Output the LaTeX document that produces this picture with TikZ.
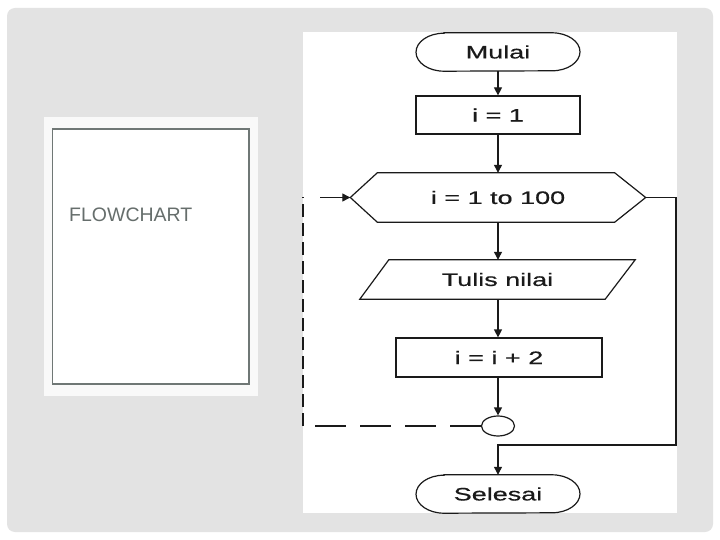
\documentclass[tikz,border=0pt]{standalone}
\usepackage{fontspec}
\setmainfont{Liberation Sans}
\newfontfamily\chartfont[FakeStretch=1.5,FakeBold=0.6]{Liberation Sans}
\usepackage{tikz}
\usetikzlibrary{positioning,arrows.meta,shapes.geometric,calc}
\definecolor{slidebg}{HTML}{E3E3E3}
\definecolor{panelbg}{HTML}{F9F9F9}
\definecolor{frame}{HTML}{6F7775}
\definecolor{titlegray}{HTML}{666E6C}
\definecolor{ink}{HTML}{1A1A1A}
\tikzset{
  txt/.style={inner sep=0pt,text=ink,font=\chartfont\fontsize{18bp}{20bp}\selectfont},
  box/.style={txt,rectangle,draw=ink,line width=1.2bp,minimum width=164bp,minimum height=38bp},
  term/.style={txt,minimum width=164bp,minimum height=38bp},
  ln/.style={line width=1.2bp,draw=ink},
  ar/.style={ln,-{Triangle[length=8bp,width=8bp]}},
  dsh/.style={ln,dash pattern=on 31bp off 14bp},
}
% terminal outline with elliptic ends
\newcommand{\termshape}[1]{%
  \draw[ln] ($(#1.north)+(-54,0)$) -- ($(#1.north)+(54,0)$)
    arc[start angle=90,end angle=-90,x radius=28bp,y radius=19bp]
    -- ($(#1.south)+(-54,0)$)
    arc[start angle=270,end angle=90,x radius=28bp,y radius=19bp] -- cycle;}

\begin{document}
\begin{tikzpicture}[x=1bp,y=-1bp]
  \useasboundingbox (0,0) rectangle (720,540);
  % slide
  \fill[white] (0,0) rectangle (720,540);
  \fill[slidebg,rounded corners=8bp] (7,8) rectangle (713,532);
  \fill[panelbg] (44,117) rectangle (258,396);
  \draw[frame,fill=white,line width=1.6bp] (52.5,129) rectangle (249,384);
  \node[inner sep=0pt,anchor=base west,text=titlegray,
    font=\fontsize{19.5bp}{22bp}\selectfont] (title) at (69,222) {FLOWCHART};
  \fill[white] (303,32) rectangle (677,513);
  % flowchart
  \node[term] (start) at (498,52) {Mulai};
  \termshape{start}
  \node[box] (init) at (498,115) {i = 1};
  \node[txt,minimum width=295bp,minimum height=49bp] (loop) at (498,197.5) {i = 1 to 100};
  \draw[ln] (loop.west) -- ($(loop.north west)+(27,0)$) -- ($(loop.north east)+(-31,0)$)
    -- (loop.east) -- ($(loop.south east)+(-31,0)$) -- ($(loop.south west)+(27,0)$) -- cycle;
  \node[txt,minimum width=275bp,minimum height=39bp] (out) at (497.5,279.5) {Tulis nilai};
  \draw[ln] (out.south west) -- ($(out.north west)+(29,0)$) -- (out.north east)
    -- ($(out.south east)+(-30,0)$) -- cycle;
  \node[box,minimum width=206bp,minimum height=39bp] (incr) at (499,357.5) {i = i + 2};
  \node[ellipse,draw=ink,line width=1.2bp,minimum width=33bp,minimum height=20bp,
    inner sep=0pt] (join) at (498,426) {};
  \node[term] (stop) at (498,494) {Selesai};
  \termshape{stop}
  \coordinate (dl) at (303,426);
  \coordinate (ul) at (303,197.5);
  \coordinate (rb) at (676,445);
  \draw[ar] (start) -- (init);
  \draw[ar] (init) -- (loop.north);
  \draw[ar] (loop.south) -- (out.north -| loop.south);
  \draw[ar] (out.south -| loop.south) -- (incr.north -| loop.south);
  \draw[ar] (incr.south -| join.north) -- (join.north);
  \draw[dsh] (join.west) -- (dl);
  \draw[ln,dash pattern=on 13bp off 6bp] (dl) -- (ul);
  \draw[ar,dash pattern=on 33bp off 17bp,dash phase=33bp] (ul) -- (loop.west);
  \draw[ar] (loop.east) -| (rb) -| (stop.north);
\end{tikzpicture}
\end{document}
